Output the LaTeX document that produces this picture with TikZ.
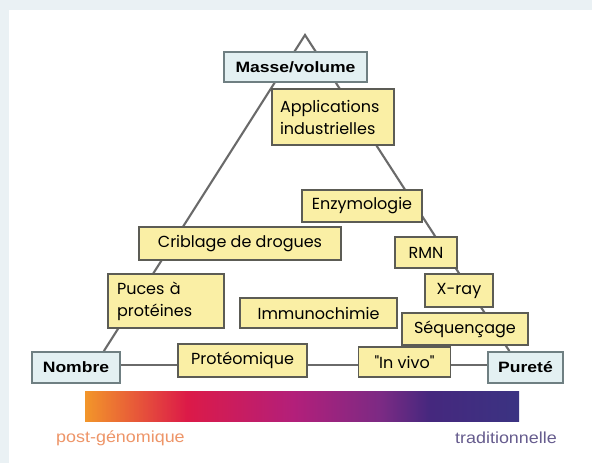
\documentclass[tikz,border=0pt]{standalone}
\usepackage{fontspec}
\setmainfont{Poppins}[Ligatures=TeXOff]
\newfontfamily\blfont[FakeStretch=1.17]{Liberation Sans}
\newfontfamily\lblfont[FakeStretch=1.12]{Liberation Sans}
\usetikzlibrary{calc,backgrounds}
\definecolor{bgc}{HTML}{EAF1F4}
\definecolor{yfill}{HTML}{FAEFA5}
\definecolor{ybord}{HTML}{5C5C55}
\definecolor{bfill}{HTML}{E3F0F2}
\definecolor{bbord}{HTML}{6F7F82}
\definecolor{linec}{HTML}{6A6A6A}
\definecolor{postc}{HTML}{EE9568}
\definecolor{tradc}{HTML}{665C8E}
\definecolor{ca}{HTML}{F2962A}
\definecolor{cb}{HTML}{DC1A48}
\definecolor{cc}{HTML}{B31F7A}
\definecolor{cd}{HTML}{7C2A84}
\definecolor{ce}{HTML}{45287E}
\definecolor{cf}{HTML}{3B3382}
\pgfdeclarehorizontalshading{barshade}{100bp}{color(0bp)=(ca); color(25bp)=(ca); color(36.75bp)=(cb); color(49bp)=(cc); color(59bp)=(cd); color(64.75bp)=(ce); color(75bp)=(cf); color(100bp)=(cf)}
\tikzset{
  ybox/.style={draw=ybord, fill=yfill, line width=1.3pt, inner sep=0pt, font=\fontsize{16}{22}\selectfont},
  bbox/.style={draw=bbord, fill=bfill, line width=1.8pt, inner sep=0pt, font=\blfont\bfseries\fontsize{15}{17}\selectfont},
  conn/.style={draw=linec, line width=2.1pt},
  lbl/.style={inner sep=0pt, font=\lblfont\fontsize{16}{18}\selectfont}
}
\begin{document}
\begin{tikzpicture}[x=1pt,y=-1pt]
\useasboundingbox (0,0) rectangle (592,463);
\coordinate (apex) at (305,35);
\node[bbox, minimum width=143pt, minimum height=30pt] (masse) at (295.5,67) {Masse/volume};
\node[ybox, minimum width=122pt, minimum height=56pt, text width=106pt, align=left] (appl) at (333,117) {Applications\\industrielles};
\node[ybox, minimum width=120pt, minimum height=32pt] (enzy) at (362,206) {Enzymologie};
\node[ybox, minimum width=202pt, minimum height=33pt] (crib) at (240,243.5) {Criblage de drogues};
\node[ybox, minimum width=116pt, minimum height=54pt, text width=98pt, align=left] (puces) at (166,301) {Puces à\\protéines};
\node[ybox, minimum width=157pt, minimum height=30pt] (immu) at (318.5,313) {Immunochimie};
\node[ybox, minimum width=62pt, minimum height=31pt] (rmn) at (426,252.5) {RMN};
\node[ybox, minimum width=68pt, minimum height=33pt] (xray) at (459,290.5) {X-ray};
\node[ybox, minimum width=126pt, minimum height=32pt] (seq) at (465,329) {Séquençage};
\node[ybox, minimum width=92pt, minimum height=30pt] (vivo) at (404.5,362) {"In vivo"};
\node[ybox, minimum width=129pt, minimum height=33pt] (prot) at (242.5,360.5) {Protéomique};
\node[bbox, minimum width=88pt, minimum height=31pt] (nombre) at (76,367.5) {Nombre};
\node[bbox, minimum width=75pt, minimum height=31pt] (purete) at (525.5,367.5) {Pureté};
\shade[shading=barshade] (85,391) rectangle (519,421);
\node[lbl, text=postc, anchor=west] (post) at (56,438) {post-génomique};
\node[lbl, text=tradc, anchor=east] (trad) at (557,438) {traditionnelle};
\begin{scope}[on background layer]
\fill[bgc] (0,0) rectangle (592,463);
\fill[white] (9,10) rectangle (592,463);
\draw[conn] ($(nombre.north west)!0.81!(nombre.north east)$) -- (apex) -- ($(purete.north west)!0.29!(purete.north east)$);
\draw[conn] ([yshift=2.5pt]nombre.east) -- ([yshift=2.5pt]purete.west);
\end{scope}
\end{tikzpicture}
\end{document}
